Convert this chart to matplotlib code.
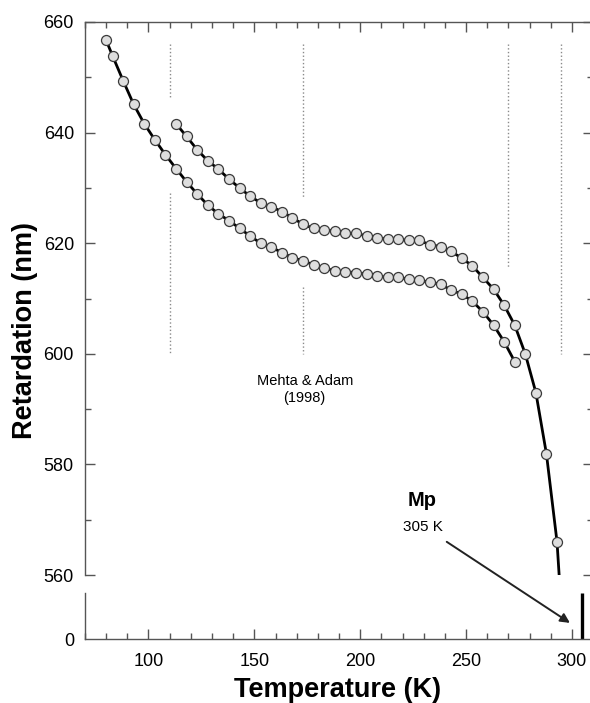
import matplotlib
matplotlib.use("Agg")
import matplotlib.pyplot as plt
from matplotlib.ticker import MultipleLocator

plt.rcParams['font.family'] = ['Liberation Sans', 'DejaVu Sans']

# lower curve (cooling run)
lower_T = [80, 83, 88, 93, 98, 103, 108, 113, 118, 123, 128, 133, 138, 143, 148,
           153, 158, 163, 168, 173, 178, 183, 188, 193, 198, 203, 208, 213, 218,
           223, 228, 233, 238, 243, 248, 253, 258, 263, 268, 273]
lower_R = [656.7, 653.9, 649.4, 645.1, 641.6, 638.7, 636.0, 633.5, 631.1, 628.9,
           626.9, 625.3, 624.1, 622.7, 621.3, 620.0, 619.3, 618.3, 617.4, 616.8,
           616.1, 615.5, 615.0, 614.8, 614.7, 614.4, 614.1, 613.8, 613.8, 613.5,
           613.3, 612.9, 612.6, 611.5, 610.8, 609.5, 607.6, 605.2, 602.2, 598.6]

# upper curve (heating run)
upper_T = [113, 118, 123, 128, 133, 138, 143, 148, 153, 158, 163, 168, 173, 178,
           183, 188, 193, 198, 203, 208, 213, 218, 223, 228, 233, 238, 243, 248,
           253, 258, 263, 268, 273, 278, 283, 288, 293]
upper_R = [641.6, 639.3, 636.9, 634.9, 633.4, 631.6, 630.0, 628.5, 627.3, 626.6,
           625.7, 624.6, 623.4, 622.7, 622.4, 622.2, 621.8, 621.8, 621.3, 620.9,
           620.8, 620.7, 620.5, 620.5, 619.7, 619.4, 618.5, 617.3, 615.9, 613.8,
           611.7, 608.8, 605.2, 600.0, 593.0, 581.9, 566.0]
# fitted line continues a little past the last point
upper_tail_T = [294]
upper_tail_R = [560]

# dotted marker lines: temperature, segment tops, segment bottoms
dot_T = [110, 110, 173, 173, 270, 295]
dot_top = [656, 629, 656, 612, 656, 656]
dot_bot = [646.5, 600, 628.4, 600, 615.7, 600]

mp_T = 305

fig = plt.figure(figsize=(5.9, 7.03), dpi=100)
W, H = 590, 703
ax = fig.add_axes([85 / W, (H - 575) / H, 508 / W, 553 / H])
axb = fig.add_axes([85 / W, (H - 639) / H, 508 / W, 46 / H])
axb.patch.set_visible(False)

spine_c = '#555555'
mk = dict(marker='o', markersize=7.2, markerfacecolor='#dedede',
          markeredgecolor='#3a3a3a', markeredgewidth=0.9)

for T, t, b in zip(dot_T, dot_top, dot_bot):
    ax.plot([T, T], [t, b], linestyle=':', color='#8a8a8a', lw=1.0, zorder=1)

ax.plot(lower_T, lower_R, color='black', lw=2.0, zorder=2)
ax.plot(upper_T + upper_tail_T, upper_R + upper_tail_R, color='black', lw=2.0, zorder=2)
ax.plot(lower_T, lower_R, linestyle='none', zorder=3, **mk)
ax.plot(upper_T, upper_R, linestyle='none', zorder=3, **mk)

ax.set_xlim(70, 310)
ax.set_ylim(560, 660)
axb.set_xlim(70, 310)
axb.set_ylim(0, 1)

# top panel styling
ax.spines['bottom'].set_visible(False)
ax.spines['right'].set_visible(False)
for s in ['top', 'left']:
    ax.spines[s].set_color(spine_c)
    ax.spines[s].set_linewidth(1.0)
ax.yaxis.set_major_locator(MultipleLocator(20))
ax.yaxis.set_minor_locator(MultipleLocator(10))
ax.xaxis.set_major_locator(MultipleLocator(50))
ax.xaxis.set_minor_locator(MultipleLocator(10))
ax.tick_params(axis='y', which='both', direction='in', left=True, right=True,
               labelsize=13, color=spine_c, pad=8)
ax.tick_params(axis='x', which='both', direction='in', top=True, bottom=False,
               labelbottom=False, color=spine_c)
ax.tick_params(which='major', length=7, width=1.0)
ax.tick_params(which='minor', length=4, width=1.0)

# bottom (broken) panel
axb.spines['top'].set_visible(False)
axb.spines['right'].set_visible(False)
for s in ['bottom', 'left']:
    axb.spines[s].set_color(spine_c)
    axb.spines[s].set_linewidth(1.0)
axb.set_yticks([0])
axb.xaxis.set_major_locator(MultipleLocator(50))
axb.xaxis.set_minor_locator(MultipleLocator(10))
axb.tick_params(axis='both', which='both', direction='in', labelsize=13,
                color=spine_c)
axb.tick_params(axis='y', length=0, pad=8)
axb.tick_params(axis='x', which='major', length=7, width=1.0, pad=10)
axb.tick_params(axis='x', which='minor', length=4, width=1.0)
axb.vlines(mp_T, 0, 1, color='black', lw=2.4)

# annotations
ax.text(173.8, 593.5, 'Mehta & Adam\n(1998)', ha='center', va='center',
        fontsize=10.5, linespacing=1.25)
ax.text(229.1, 573.4, 'Mp', ha='center', va='center', fontsize=14.5,
        fontweight='bold')
ax.text(229.7, 568.7, '305 K', ha='center', va='center', fontsize=11)
ax.annotate('', xy=(299.1, 0.35), xycoords=axb.transData,
            xytext=(240.9, 566.0), textcoords=ax.transData,
            annotation_clip=False, clip_on=False,
            arrowprops=dict(arrowstyle='-|>', color='#222222', lw=1.4,
                            mutation_scale=14, shrinkA=0, shrinkB=0,
                            clip_on=False))

fig.text(338 / W, 1 - 690 / H, 'Temperature (K)', ha='center', va='center',
         fontsize=19.5, fontweight='bold')
fig.text(25 / W, 1 - 330 / H, 'Retardation (nm)', ha='center', va='center',
         rotation=90, fontsize=19.5, fontweight='bold')

fig.savefig('out.png', dpi=100)
